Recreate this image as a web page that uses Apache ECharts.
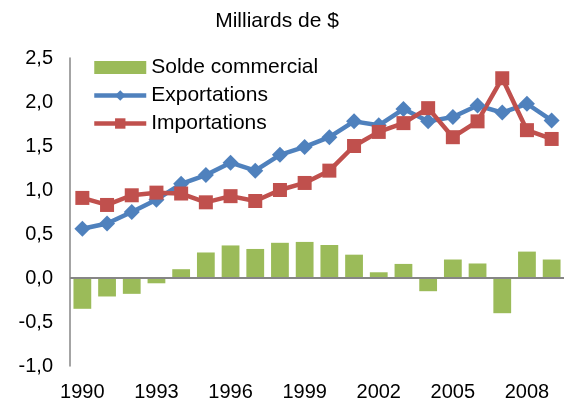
<!DOCTYPE html>
<html>
<head>
<meta charset="utf-8">
<script src="https://cdn.jsdelivr.net/npm/echarts@6/dist/echarts.min.js"></script>
<style>
  body { margin: 0; background: #fff; }
  #chart { width: 564px; height: 406px; }
</style>
</head>
<body>
<div id="chart"></div>
<script>
// annees
var years = ['1990','1991','1992','1993','1994','1995','1996','1997','1998','1999',
             '2000','2001','2002','2003','2004','2005','2006','2007','2008','2009'];
// solde commercial
var solde = [-0.35,-0.21,-0.18,-0.06,0.10,0.29,0.37,0.33,0.40,0.41,
             0.375,0.265,0.065,0.16,-0.15,0.21,0.165,-0.40,0.30,0.21];
// exportations
var exportations = [0.56,0.62,0.75,0.89,1.07,1.17,1.31,1.22,1.40,1.49,
                    1.60,1.78,1.735,1.92,1.78,1.83,1.96,1.88,1.98,1.79];
// importations
var importations = [0.91,0.83,0.94,0.97,0.96,0.86,0.93,0.875,1.0,1.08,
                    1.22,1.50,1.66,1.76,1.93,1.60,1.78,2.27,1.68,1.58];

var chartDom = document.getElementById('chart');
var myChart = echarts.init(chartDom);
var option;
var font = 'Liberation Sans, Arial, sans-serif';

option = {
  animation: false,
  title: {
    text: 'Milliards de $',
    left: 272,
    textAlign: 'center',
    top: 6,
    textStyle: { fontFamily: font, fontSize: 21, fontWeight: 'normal', color: '#000' }
  },
  legend: {
    orient: 'vertical',
    left: 87,
    top: 52,
    itemWidth: 52,
    itemHeight: 13,
    itemGap: 7,
    selectedMode: false,
    lineStyle: { width: 4.5 },
    textStyle: { fontFamily: font, fontSize: 21, color: '#000' },
    data: [
      { name: 'Solde commercial', icon: 'rect' },
      { name: 'Exportations' },
      { name: 'Importations' }
    ]
  },
  grid: { left: 70, right: 0, top: 58, bottom: 40 },
  xAxis: {
    type: 'category',
    data: years,
    axisLine: { show: false, onZero: false },
    axisTick: { show: false },
    axisLabel: {
      interval: 2,
      margin: 16,
      fontFamily: font, fontSize: 20, color: '#000'
    }
  },
  yAxis: {
    type: 'value',
    min: -1,
    max: 2.5,
    interval: 0.5,
    splitLine: { show: false },
    axisTick: { show: false },
    axisLine: { show: true, lineStyle: { color: '#868686', width: 1.5 } },
    axisLabel: {
      margin: 17,
      fontFamily: font, fontSize: 20, color: '#000',
      formatter: function (v) { return v.toFixed(1).replace('.', ','); }
    }
  },
  series: [
    {
      name: 'Solde commercial',
      type: 'bar',
      data: solde,
      barWidth: '72%',
      itemStyle: { color: '#9BBB59' },
      markLine: {
        silent: true,
        symbol: 'none',
        label: { show: false },
        lineStyle: { color: '#868686', width: 2, type: 'solid' },
        data: [{ yAxis: 0 }]
      }
    },
    {
      name: 'Exportations',
      type: 'line',
      data: exportations,
      symbol: 'diamond',
      symbolSize: 16,
      lineStyle: { color: '#4F81BD', width: 4.5 },
      itemStyle: { color: '#4F81BD' }
    },
    {
      name: 'Importations',
      type: 'line',
      data: importations,
      symbol: 'rect',
      symbolSize: 14,
      lineStyle: { color: '#C0504D', width: 4.5 },
      itemStyle: { color: '#C0504D' }
    }
  ]
};

option && myChart.setOption(option);
</script>
</body>
</html>
